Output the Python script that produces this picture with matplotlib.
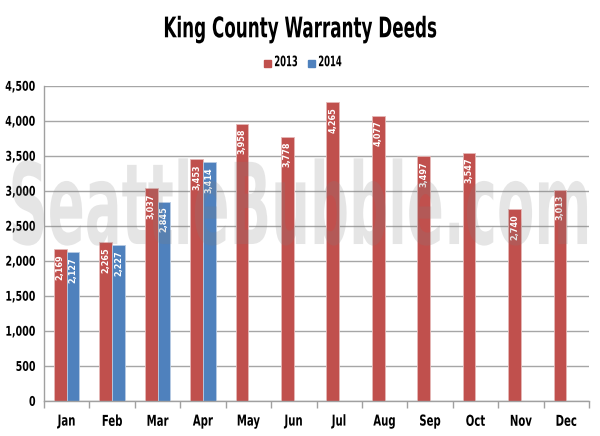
import matplotlib
matplotlib.use("Agg")
import matplotlib.pyplot as plt
import numpy as np
from matplotlib.patches import Rectangle
from matplotlib.patheffects import AbstractPathEffect
from matplotlib.transforms import Affine2D

months = ["Jan", "Feb", "Mar", "Apr", "May", "Jun", "Jul", "Aug", "Sep", "Oct", "Nov", "Dec"]
deeds_2013 = [2169, 2265, 3037, 3453, 3958, 3778, 4265, 4077, 3497, 3547, 2740, 3013]
deeds_2014 = [2127, 2227, 2845, 3414]
yticks = [0, 500, 1000, 1500, 2000, 2500, 3000, 3500, 4000, 4500]

FONT = dict(family="DejaVu Sans", stretch="condensed")


class Stretch(AbstractPathEffect):
    """Draw the text path scaled about its own centre (narrow, tall lettering)."""
    def __init__(self, sx=1.0, sy=1.0, anchor="center"):
        super().__init__()
        self.sx, self.sy, self.anchor = sx, sy, anchor

    def draw_path(self, renderer, gc, tpath, affine, rgbFace=None):
        ext = tpath.get_extents(affine)
        cx = (ext.x0 + ext.x1) / 2
        if self.anchor == "right":
            cx = ext.x1
        cy = (ext.y0 + ext.y1) / 2
        t = affine + Affine2D().translate(-cx, -cy).scale(self.sx, self.sy).translate(cx, cy)
        renderer.draw_path(gc, tpath, t, rgbFace)


red = "#C0504D"
blue = "#4F81BD"

fig = plt.figure(figsize=(6, 4.36), dpi=100)
ax = fig.add_axes([44/600, 1-401/436, 545/600, (401-86)/436])

x = np.arange(len(months))
w = 0.28
b1 = ax.bar(x - w/2, deeds_2013, w, color=red, edgecolor="#E6B8B7", linewidth=0.6, zorder=2)
b2 = ax.bar(x[:len(deeds_2014)] + w/2, deeds_2014, w, color=blue, edgecolor="#B8CCE4", linewidth=0.6, zorder=2)

for bars, vals in ((b1, deeds_2013), (b2, deeds_2014)):
    for r, v in zip(bars, vals):
        ax.text(r.get_x() + r.get_width()/2, v - 70, f"{v:,}", rotation=90,
                ha="center", va="top", color="white", fontsize=6.5,
                fontweight="bold", zorder=3, **FONT)

ax.set_xlim(-0.5, 11.5)
ax.set_ylim(0, 4500)
ax.set_yticks(yticks)
ax.set_yticklabels([f"{t:,}" for t in yticks], fontweight="bold", fontsize=8, **FONT)
ax.set_xticks(x)
ax.set_xticklabels(months, fontweight="bold", fontsize=9, **FONT)
ax.tick_params(axis="x", length=0, pad=10)
ax.set_xticks(np.arange(-0.5, 12, 1), minor=True)
ax.tick_params(axis="x", which="minor", length=5, color="#A0A0A0", width=1)
ax.tick_params(axis="y", length=0, pad=6)
for lab in ax.get_yticklabels():
    lab.set_path_effects([Stretch(0.95, 1.2, anchor="right")])
for lab in ax.get_xticklabels():
    lab.set_path_effects([Stretch(0.9, 1.2)])
ax.yaxis.grid(True, color="#A6A6A6", linewidth=1, zorder=0)
ax.set_axisbelow(True)
for s in ["top", "right"]:
    ax.spines[s].set_visible(False)
for s in ["left", "bottom"]:
    ax.spines[s].set_color("#A0A0A0")
    ax.spines[s].set_linewidth(1)

fig.text(0.5, 1-29/436, "King County Warranty Deeds", ha="center", va="center",
         fontsize=17, fontweight="bold", path_effects=[Stretch(0.79, 1.2)], **FONT)

# legend
fig.patches.append(Rectangle((264/600, 1-67/436), 7/600, 7/436, transform=fig.transFigure, color=red))
fig.text(286/600, 1-62/436, "2013", va="center", ha="center", fontsize=9, fontweight="bold",
         path_effects=[Stretch(0.75, 1.15)], **FONT)
fig.patches.append(Rectangle((308/600, 1-67/436), 7/600, 7/436, transform=fig.transFigure, color=blue))
fig.text(330/600, 1-62/436, "2014", va="center", ha="center", fontsize=9, fontweight="bold",
         path_effects=[Stretch(0.75, 1.15)], **FONT)

# watermark
fig.text(0.5, 1-209/436, "SeattleBubble.com", ha="center", va="center",
         fontsize=56, fontweight="bold", color="#808080", alpha=0.2, zorder=10,
         path_effects=[Stretch(0.78, 1.45)], **FONT)

fig.savefig("out.png", dpi=100)
